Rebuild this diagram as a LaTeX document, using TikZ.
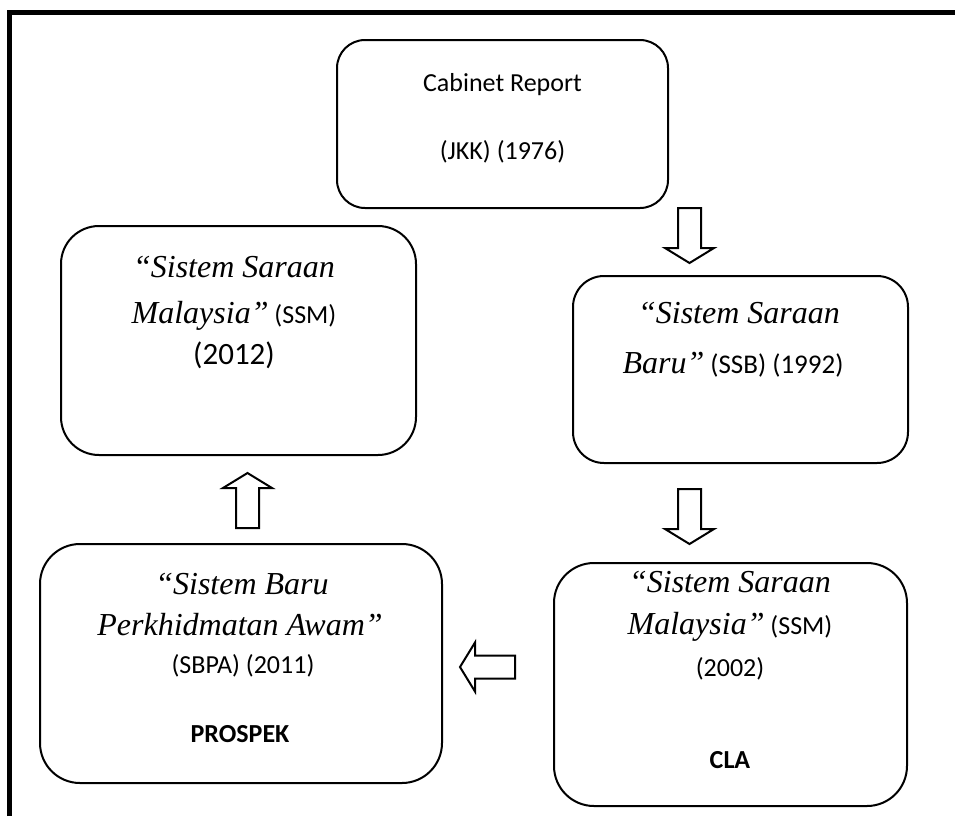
\documentclass[tikz,border=0pt]{standalone}
\usepackage{fontspec}
\setmainfont{Carlito}
\newfontfamily\tnr{Liberation Serif}
\tikzset{
  box/.style={draw, line width=1pt, inner sep=0pt},
  line/.style={anchor=base, inner sep=0pt, font=\fontsize{13}{16}\selectfont},
  bigline/.style={line, font=\fontsize{15.5}{18}\selectfont},
  bigarrow/.pic={
    \draw[line width=1pt, fill=white, line join=miter]
      (-27.5,-11.5) -- (12.5,-11.5) -- (12.5,-24.5) -- (27.5,0)
      -- (12.5,24.5) -- (12.5,11.5) -- (-27.5,11.5) -- cycle;
  }
}
\newcommand\slant[1]{{\tnr\itshape\fontsize{16}{19}\selectfont #1}}
\begin{document}
\begin{tikzpicture}[x=0.5pt, y=-0.5pt]
  \useasboundingbox (0,0) rectangle (955,816);
  \draw[line width=2.5pt] (9.5,816) -- (9.5,12.5) -- (955,12.5);
  % boxes
  \node[box, rounded corners=14pt, minimum width=165.5pt, minimum height=84pt] (cab) at (502.5,124) {};
  \node[box, rounded corners=19pt, minimum width=177.5pt, minimum height=114.5pt] (ssmA) at (238.5,340.5) {};
  \node[box, rounded corners=15.5pt, minimum width=167.5pt, minimum height=93.5pt] (ssb) at (740.5,369.5) {};
  \node[box, rounded corners=20pt, minimum width=201pt, minimum height=119.5pt] (sbpa) at (241,663.5) {};
  \node[box, rounded corners=20pt, minimum width=176.5pt, minimum height=121.5pt] (ssmB) at (730.5,684.5) {};
  % texts
  \node[line] (cab1) at (502.5,91) {Cabinet Report};
  \node[line] (cab2) at (502.5,159) {(JKK) (1976)};
  \node[line] (ssmA1) at (234,277) {\slant{“Sistem Saraan}};
  \node[line] (ssmA2) at (234,323) {\slant{Malaysia”} (SSM)};
  \node[bigline] (ssmA3) at (234,364) {(2012)};
  \node[line] (ssb1) at (739,323) {\slant{“Sistem Saraan}};
  \node[line, font=\fontsize{13.5}{16}\selectfont] (ssb2) at (733,373) {\slant{Baru”} (SSB) (1992)};
  \node[line] (sbpa1) at (242,594) {\slant{“Sistem Baru}};
  \node[line] (sbpa2) at (240,635) {\slant{Perkhidmatan Awam”}};
  \node[line] (sbpa3) at (243,673) {(SBPA) (2011)};
  \node[line] (sbpa4) at (240,742) {\textbf{PROSPEK}};
  \node[line] (ssmB1) at (730,592) {\slant{“Sistem Saraan}};
  \node[line] (ssmB2) at (730,634) {\slant{Malaysia”} (SSM)};
  \node[line] (ssmB3) at (730,676) {(2002)};
  \node[line] (ssmB4) at (730,768) {\textbf{CLA}};
  % block arrows
  \pic[rotate=-90] (arrA) at (689.5,235.5) {bigarrow};
  \pic[rotate=-90] (arrB) at (689.5,516.5) {bigarrow};
  \pic[rotate=90] (arrC) at (247.5,500.5) {bigarrow};
  \pic[rotate=180] (arrD) at (487.5,667) {bigarrow};
\end{tikzpicture}
\end{document}
